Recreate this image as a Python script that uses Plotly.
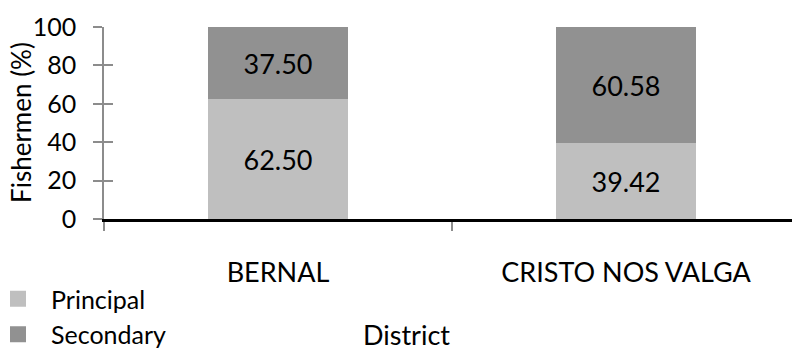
import plotly.graph_objects as go

districts = ["BERNAL", "CRISTO NOS VALGA"]
principal = [62.50, 39.42]
secondary = [37.50, 60.58]
y_ticks = [0, 20, 40, 60, 80, 100]
series_names = ["Principal", "Secondary"]
series_colors = ["#BFBFBF", "#919191"]

FONT = "Lato, 'Open Sans', sans-serif"
FS = 27

fig = go.Figure()
for name, vals, col in zip(series_names, [principal, secondary], series_colors):
    fig.add_trace(go.Bar(
        name=name, x=districts, y=vals, width=0.4, showlegend=False,
        marker=dict(color=col, line=dict(width=0)),
        texttemplate="%{y:.2f}", textposition="inside", insidetextanchor="middle",
        textangle=0, textfont=dict(family=FONT, size=FS, color="#000000"),
    ))
# legend keys drawn as larger squares
for name, col in zip(series_names, series_colors):
    fig.add_trace(go.Scatter(
        name=name, x=[None], y=[None], mode="markers",
        marker=dict(symbol="square", size=17, color=col), hoverinfo="skip",
    ))
# empty trace so the inner tick marks on the overlay axis are drawn
fig.add_trace(go.Scatter(x=[None], y=[None], yaxis="y2", showlegend=False, hoverinfo="skip"))

fig.update_layout(
    barmode="stack",
    width=792, height=351,
    margin=dict(l=104, r=0, t=27, b=132, autoexpand=False),
    paper_bgcolor="white", plot_bgcolor="white",
    font=dict(family=FONT, size=FS, color="#000000"),
    showlegend=True,
    legend=dict(
        orientation="v", xref="paper", yref="paper",
        x=-119 / 688, y=(219 - 276) / 192, xanchor="left", yanchor="top",
        font=dict(family=FONT, size=25),
        itemwidth=56, traceorder="normal",
        bgcolor="rgba(0,0,0,0)",
    ),
    xaxis=dict(
        range=[-0.5, 1.477], automargin=False,
        showline=True, linecolor="#000000", linewidth=2.5,
        ticks="outside", tickson="boundaries", ticklen=9, tickcolor="#8C8C8C", tickwidth=1.5,
        ticklabelstandoff=28,
        tickfont=dict(family=FONT, size=FS),
        showgrid=False, zeroline=False,
    ),
    yaxis=dict(
        range=[0, 100], tickvals=y_ticks, automargin=False,
        showline=True, linecolor="#8C8C8C", linewidth=1.5,
        ticks="outside", ticklen=9, tickcolor="#8C8C8C", tickwidth=1.5,
        ticklabelstandoff=12,
        tickfont=dict(family=FONT, size=25),
        showgrid=False, zeroline=False,
    ),
    yaxis2=dict(
        range=[0, 100], tickvals=y_ticks, overlaying="y", side="left",
        showline=False, ticks="inside", ticklen=9, tickcolor="#8C8C8C", tickwidth=1.5,
        showticklabels=False, showgrid=False, zeroline=False,
    ),
    annotations=[
        dict(
            text="Fishermen (%)", xref="paper", yref="paper", textangle=-90,
            x=(21 - 104) / 688, y=0.5, xanchor="center", yanchor="middle",
            showarrow=False, font=dict(family=FONT, size=26),
        ),
        dict(
            text="District", xref="paper", yref="paper",
            x=(406 - 104) / 688, y=(219 - 334) / 192, xanchor="center", yanchor="middle",
            showarrow=False, font=dict(family=FONT, size=FS),
        ),
    ],
)

fig.write_html("out.html")
